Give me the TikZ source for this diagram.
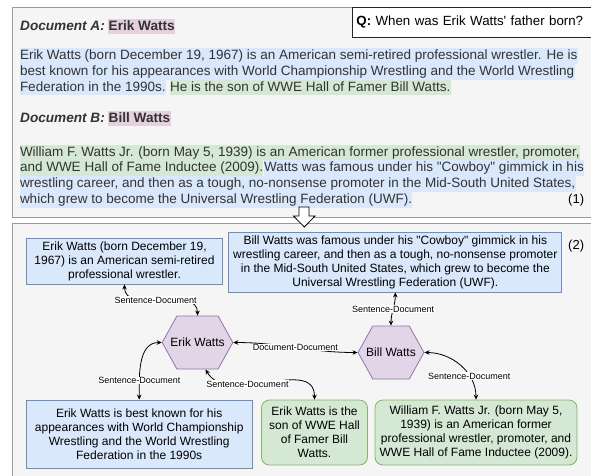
\documentclass[tikz,border=0pt]{standalone}
\usepackage{fontspec}
\setmainfont{Liberation Sans}[Ligatures=TeXOff]
\usetikzlibrary{arrows.meta, positioning, shapes.symbols}
\definecolor{hlblue}{HTML}{DAE8FC}
\definecolor{hlgreen}{HTML}{D5E8D4}
\definecolor{hlpink}{HTML}{E6D0DE}
\definecolor{blueline}{HTML}{6C8EBF}
\definecolor{greenline}{HTML}{82B366}
\definecolor{hexfill}{HTML}{E1D5E7}
\definecolor{hexline}{HTML}{9673A6}
\definecolor{panelfill}{HTML}{F5F5F5}
\definecolor{panelline}{HTML}{9A9A9A}
\definecolor{doctext}{HTML}{333333}
\tikzset{
    panel/.style = {draw=panelline, fill=panelfill, line width=1pt},
    hl/.style = {anchor=base west, inner xsep=0.3pt, inner ysep=0pt, text height=11.5pt, text depth=4.3pt, text=doctext, font=\fontsize{13.5}{16}\selectfont},
    hlb/.style = {hl, fill=hlblue},
    hlg/.style = {hl, fill=hlgreen},
    title/.style = {anchor=base west, inner xsep=0.5pt, inner ysep=0pt, text height=12pt, text depth=3.5pt, text=doctext, font=\fontsize{13.6}{16}\selectfont\bfseries},
    sent/.style = {draw=blueline, fill=hlblue, line width=0.8pt, align=center, inner sep=2pt, font=\fontsize{12}{14}\selectfont},
    sentg/.style = {sent, draw=greenline, fill=hlgreen, rounded corners=8pt},
    entity/.style = {signal, signal to=east and west, signal pointer angle=122, draw=hexline, fill=hexfill, line width=0.8pt, minimum height=53pt, inner xsep=-6.5pt, inner ysep=0pt, font=\fontsize{12}{14}\selectfont},
    link/.style = {{Stealth[length=5pt,width=4.5pt]}-{Stealth[length=5pt,width=4.5pt]}, line width=0.8pt},
    rel/.style = {fill=white, inner sep=0.6pt, font=\fontsize{9}{10}\selectfont}
}

\begin{document}
\begin{tikzpicture}[x=1pt, y=1pt]
  \useasboundingbox (0,0) rectangle (591,-475);
  \clip (0,0) rectangle (591,-475);

  % two panels
  \draw[panel] (12.5,-7) rectangle (600,-217.5);
  \draw[panel] (12.5,-223.5) rectangle (600,-485);

  % question
  \node[draw=black!85, fill=white, line width=0.8pt, anchor=north west, minimum height=30pt, text width=250pt, inner xsep=4pt, font=\fontsize{13.3}{14}\selectfont] (q) at (352,-7) {\textbf{Q:} When was Erik Watts' father born?};

  % document A
  \node[title, font=\fontsize{13.6}{16}\selectfont\bfseries\itshape, inner xsep=0pt] (titA) at (20,-30.5) {Document A:};
  \node[title, fill=hlpink] (entA) at ([xshift=3pt]titA.base east) {Erik Watts};
  \node[hlb] (a1) at (19.5,-59.5) {Erik Watts (born December 19, 1967) is an American semi-retired professional wrestler. He is};
  \node[hlb] (a2) at (19.5,-75.3) {best known for his appearances with World Championship Wrestling and the World Wrestling};
  \node[hlb] (a3) at (19.5,-91.1) {Federation in the 1990s.};
  \node[hlg] (a4) at ([xshift=3.6pt]a3.base east) {He is the son of WWE Hall of Famer Bill Watts.};

  % document B
  \node[title, font=\fontsize{13.6}{16}\selectfont\bfseries\itshape, inner xsep=0pt] (titB) at (20,-122.5) {Document B:};
  \node[title, fill=hlpink] (entB) at ([xshift=3pt]titB.base east) {Bill Watts};
  \node[hlg] (b1) at (19.5,-156) {William F. Watts Jr. (born May 5, 1939) is an American former professional wrestler, promoter,};
  \node[hlg] (b2) at (19.5,-171.8) {and WWE Hall of Fame Inductee (2009).};
  \node[hlb] (b3) at (b2.base east) {Watts was famous under his "Cowboy" gimmick in his};
  \node[hlb] (b4) at (19.5,-187.6) {wrestling career, and then as a tough, no-nonsense promoter in the Mid-South United States,};
  \node[hlb] (b5) at (19.5,-203.4) {which grew to become the Universal Wrestling Federation (UWF).};
  \node[anchor=base west, inner sep=0pt, font=\fontsize{13}{14}\selectfont] (one) at (568,-203) {(1)};

  % arrow between panels
  \draw[fill=white, line width=0.8pt] (299,-207) -- (309,-207) -- (309,-216) -- (315,-216) -- (304.3,-227) -- (293.5,-216) -- (299,-216) -- cycle;

  % graph
  \node[anchor=base west, inner sep=0pt, font=\fontsize{13}{14}\selectfont] (two) at (568,-249) {(2)};
  \node[sent, minimum width=196pt, minimum height=46pt] (eA) at (124.5,-261) {Erik Watts (born December 19,\\1967) is an American semi-retired\\professional wrestler.};
  \node[sent, minimum width=333pt, minimum height=60pt] (bA) at (395.3,-262) {Bill Watts was famous under his "Cowboy" gimmick in his\\wrestling career, and then as a tough, no-nonsense promoter\\in the Mid-South United States, which grew to become the\\Universal Wrestling Federation (UWF).};
  \node[entity] (docE) at (197.5,-342.5) {Erik Watts};
  \node[entity] (docB) at (391,-352.5) {Bill Watts};
  \node[sent, minimum width=226pt, minimum height=68pt] (eB) at (139.2,-434) {Erik Watts is best known for his\\appearances with World Championship\\Wrestling and the World Wrestling\\Federation in the 1990s};
  \node[sentg, minimum width=106pt, minimum height=65pt] (eC) at (314.5,-432.5) {Erik Watts is the\\son of WWE Hall\\of Famer Bill\\Watts.};
  \node[sentg, minimum width=202pt, minimum height=65pt] (bB) at (476,-432.5) {William F. Watts Jr. (born May 5,\\1939) is an American former\\professional wrestler, promoter, and\\WWE Hall of Fame Inductee (2009).};

  \draw[link] (eA.south) to[out=-90, in=90] node[rel, pos=0.45] {Sentence-Document} (docE.north);
  \draw[link] (docE.east) to[out=0, in=180] node[rel] {Document-Document} (docB.west);
  \draw[link] (bA.south) to[out=-90, in=90] node[rel] {Sentence-Document} (docB.north);
  \draw[link] (docE.west) to[out=180, in=90] node[rel, pos=0.75] {Sentence-Document} (eB.north);
  \draw[link] ([xshift=8pt]docE.south) to[out=-60, in=90] node[rel, pos=0.36] {Sentence-Document} (eC.north);
  \draw[link] (docB.east) to[out=0, in=90] node[rel, pos=0.68] {Sentence-Document} (bB.north);
\end{tikzpicture}
\end{document}
